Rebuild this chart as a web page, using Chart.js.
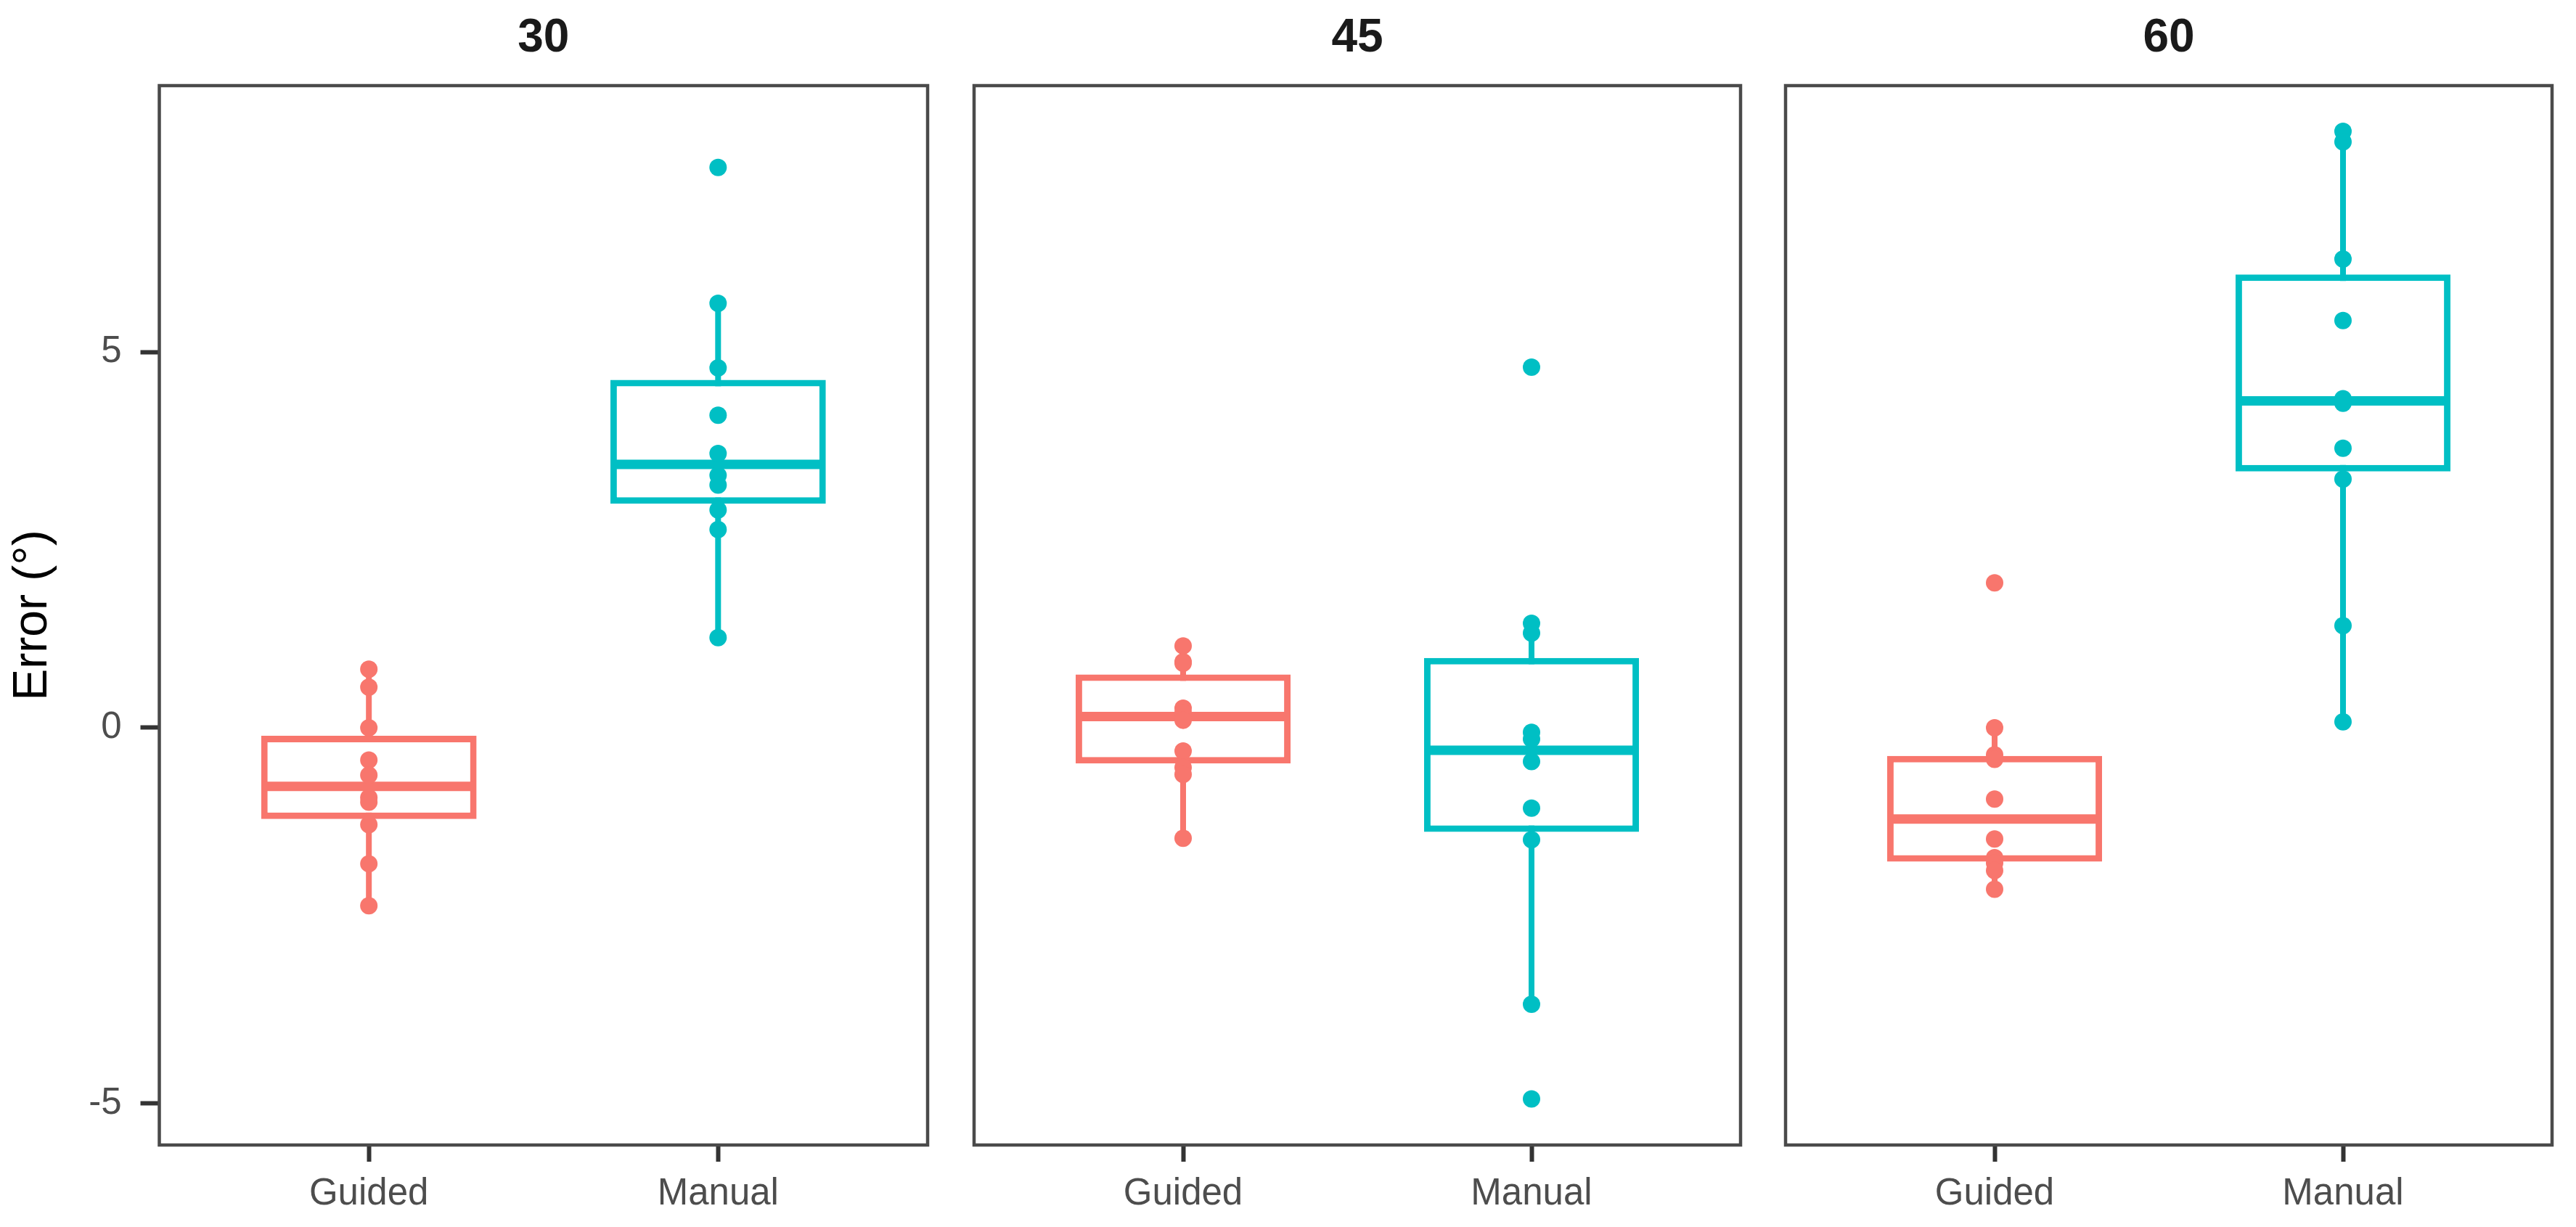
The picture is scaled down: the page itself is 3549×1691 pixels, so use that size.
<!DOCTYPE html>
<html>
<head>
<meta charset="utf-8">
<title>Error by angle</title>
<script src="https://cdn.jsdelivr.net/npm/chart.js@4.4.1/dist/chart.umd.min.js"></script>
<style>
  html, body { margin: 0; padding: 0; background: #fff; }
  #wrap { position: relative; width: 3549px; height: 1691px; }
  .panel { position: absolute; top: 0; height: 1691px; }
</style>
</head>
<body>
<div id="wrap">
  <div class="panel" style="left:0px;width:1290px"><canvas id="c30"></canvas></div>
  <div class="panel" style="left:1330px;width:1080px"><canvas id="c45"></canvas></div>
  <div class="panel" style="left:2448px;width:1080px"><canvas id="c60"></canvas></div>
</div>
<script>
// facets and groups
var angles = ['30', '45', '60'];
var methods = ['Guided', 'Manual'];
var yTicks = [-5, 0, 5];

// error values (degrees)
var guided30 = [0.78, 0.54, 0.0, -0.43, -0.63, -0.93, -0.99, -1.29, -1.81, -2.37];
var manual30 = [7.46, 5.65, 4.79, 4.16, 3.65, 3.36, 3.23, 2.90, 2.64, 1.20];
var guided45 = [1.09, 0.88, 0.86, 0.26, 0.20, 0.10, -0.31, -0.53, -0.62, -1.47];
var manual45 = [4.80, 1.39, 1.26, -0.06, -0.15, -0.45, -1.07, -1.49, -3.68, -4.94];
var guided60 = [1.93, 0.0, -0.36, -0.42, -0.95, -1.48, -1.73, -1.80, -1.90, -2.15];
var manual60 = [7.94, 7.80, 6.24, 5.42, 4.38, 4.32, 3.72, 3.31, 1.36, 0.08];

var seriesByAngle = {
    '30': [guided30, manual30],
    '45': [guided45, manual45],
    '60': [guided60, manual60]
};

var colors = ['#F8766D', '#00BFC4'];
var FONT = "'Liberation Sans', Arial, sans-serif";

function quantile(sorted, p) {
    var h = (sorted.length - 1) * p;
    var lo = Math.floor(h);
    var next = lo + 1 < sorted.length ? sorted[lo + 1] : sorted[lo];
    return sorted[lo] + (h - lo) * (next - sorted[lo]);
}

// usual tukey boxplot stats
function boxStats(values) {
    var s = values.slice().sort(function (a, b) { return a - b; });
    var q1 = quantile(s, 0.25), med = quantile(s, 0.5), q3 = quantile(s, 0.75);
    var iqr = q3 - q1;
    var inside = s.filter(function (v) { return v >= q1 - 1.5 * iqr && v <= q3 + 1.5 * iqr; });
    return { q1: q1, med: med, q3: q3, lo: inside[0], hi: inside[inside.length - 1] };
}

// panel border drawn round the plot area
var panelBorder = {
    id: 'panelBorder',
    afterDatasetsDraw: function (chart) {
        var a = chart.chartArea, ctx = chart.ctx;
        ctx.save();
        ctx.strokeStyle = '#4a4a4a';
        ctx.lineWidth = 4.5;
        ctx.strokeRect(a.left, a.top, a.right - a.left, a.bottom - a.top);
        ctx.restore();
    }
};

function makeDatasets(angle) {
    var ds = [];
    seriesByAngle[angle].forEach(function (vals, i) {
        var x = i + 1;
        var st = boxStats(vals);
        ds.push({
            type: 'line', order: 4,
            data: [{ x: x, y: st.lo }, { x: x, y: st.hi }],
            borderColor: colors[i], borderWidth: 8, pointRadius: 0, borderCapStyle: 'butt'
        });
        ds.push({
            type: 'bar', order: 3, grouped: false,
            data: [{ x: x, y: [st.q1, st.q3] }],
            backgroundColor: '#ffffff', borderColor: colors[i], borderWidth: 9,
            borderSkipped: false, barPercentage: 0.617, categoryPercentage: 1
        });
        ds.push({
            type: 'line', order: 2,
            data: [{ x: x - 0.3, y: st.med }, { x: x + 0.3, y: st.med }],
            borderColor: colors[i], borderWidth: 13, pointRadius: 0, borderCapStyle: 'butt'
        });
        ds.push({
            type: 'line', order: 1, showLine: false,
            data: vals.map(function (v) { return { x: x, y: v }; }),
            pointRadius: 12, pointBorderWidth: 0,
            pointBackgroundColor: colors[i], borderColor: colors[i]
        });
    });
    return ds;
}

function makeChart(angle, idx, pad) {
    var first = idx === 0;
    var ctx = document.getElementById('c' + angle).getContext('2d');
    return new Chart(ctx, {
        type: 'scatter',
        data: { datasets: makeDatasets(angle) },
        options: {
            responsive: true,
            maintainAspectRatio: false,
            animation: false,
            layout: { padding: pad },
            plugins: {
                legend: { display: false },
                tooltip: { enabled: false },
                title: {
                    display: true,
                    text: angle,
                    fullSize: false,
                    color: '#1a1a1a',
                    font: { family: FONT, size: 64, weight: 'bold', lineHeight: 1.2 },
                    padding: { top: 15, bottom: 26.2 }
                }
            },
            scales: {
                x: {
                    type: 'linear',
                    min: 0.4, max: 2.6,
                    offset: false,
                    afterBuildTicks: function (scale) {
                        scale.ticks = methods.map(function (m, i) { return { value: i + 1 }; });
                    },
                    afterFit: function (scale) { scale.height = 113; },
                    ticks: {
                        color: '#4d4d4d',
                        font: { family: FONT, size: 51 },
                        padding: 14,
                        maxRotation: 0,
                        callback: function (v) { return methods[v - 1]; }
                    },
                    grid: {
                        drawOnChartArea: false, drawTicks: true, offset: false,
                        tickLength: 23, tickColor: '#333333', tickWidth: 6
                    },
                    border: { display: false }
                },
                y: {
                    type: 'linear',
                    display: first,
                    min: -5.554, max: 8.548,
                    afterBuildTicks: function (scale) {
                        scale.ticks = yTicks.map(function (v) { return { value: v }; });
                    },
                    afterFit: function (scale) { scale.width = first ? 219.5 : 0; },
                    ticks: {
                        color: '#4d4d4d',
                        font: { family: FONT, size: 51 },
                        padding: 26
                    },
                    grid: {
                        drawOnChartArea: false, drawTicks: true,
                        tickLength: 26, tickColor: '#333333', tickWidth: 6
                    },
                    border: { display: false },
                    title: {
                        display: true,
                        text: 'Error (°)',
                        color: '#000000',
                        font: { family: FONT, size: 66, lineHeight: 1.2 },
                        padding: { top: 6, bottom: 0 }
                    }
                }
            }
        },
        plugins: [panelBorder]
    });
}

makeChart('30', 0, { left: 0, right: 6.6, top: 0, bottom: 0 });
makeChart('45', 1, { left: 7.7, right: 6.3, top: 0, bottom: 0 });
makeChart('60', 2, { left: 7.8, right: 6.2, top: 0, bottom: 0 });
</script>
</body>
</html>
